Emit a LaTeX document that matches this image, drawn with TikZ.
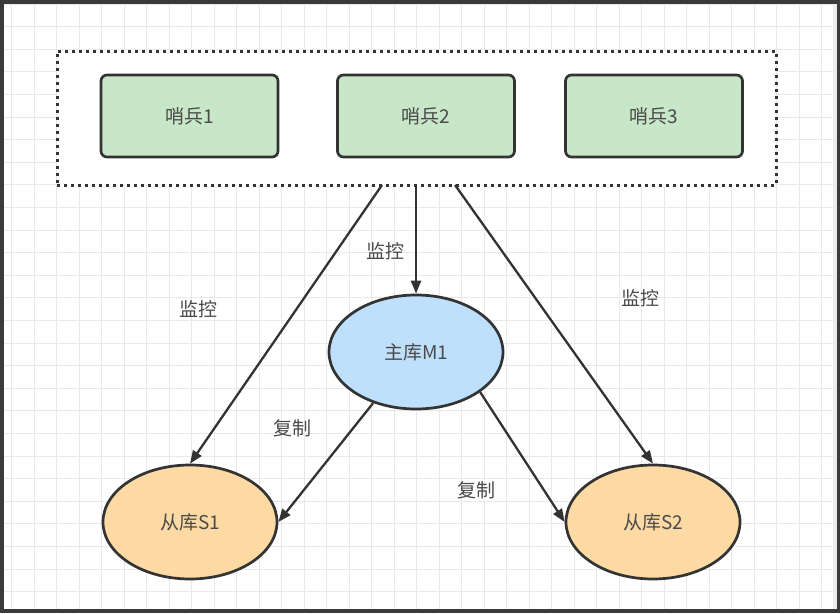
\documentclass[tikz,border=0pt]{standalone}
\usepackage{fontspec}
\newfontfamily\cjk{Noto Sans CJK SC}
\usetikzlibrary{arrows.meta,shapes.geometric}
\definecolor{sentgreen}{HTML}{C8E6C8}
\definecolor{masterblue}{HTML}{BEE0FC}
\definecolor{slaveorange}{HTML}{FDDAA4}
\definecolor{edgegray}{HTML}{333333}
\definecolor{textgray}{HTML}{4A4A4A}
\definecolor{gridgray}{HTML}{E8E8E8}
\definecolor{framegray}{HTML}{3A3A3A}

\begin{document}
\begin{tikzpicture}[x=1pt,y=-1pt]
                        \tikzstyle{sentinel}=[draw=edgegray, line width=2.7pt, fill=sentgreen, rounded corners=6pt, minimum width=177pt, minimum height=82pt, inner sep=0pt]
                        \tikzstyle{db}=[ellipse, draw=edgegray, line width=2.7pt, minimum width=174pt, minimum height=114pt, inner sep=0pt]
                        \tikzstyle{lbl}=[text=textgray]
                        \tikzstyle{link}=[draw=edgegray, line width=2.3pt, -{Triangle[length=13pt,width=10pt]}]
                        \useasboundingbox (0,0) rectangle (840,613);
                        % screen frame and grid
                        \fill[framegray] (0,0) rectangle (840,613);
                        \fill[white] (4,4) rectangle (833,609);
                        \fill[gray!15] (833,4) rectangle (837,609);
                        \foreach \gx in {0,...,36} {
                            \draw[gridgray, line width=0.9pt] (11.7+22.5*\gx,4) -- (11.7+22.5*\gx,609);
                        }
                        \foreach \gy in {0,...,26} {
                            \draw[gridgray, line width=0.9pt] (4,4+22.6*\gy) -- (833,4+22.6*\gy);
                        }
                        \begin{scope}[font=\cjk\fontsize{19}{22}\selectfont]
                        % sentinel group
                        \node[draw=edgegray, fill=white, line width=3pt, dash pattern=on 3pt off 4pt, minimum width=719pt, minimum height=134pt] (grp) at (416.5,118) {};
                        \node[sentinel, lbl] (st1) at (189.5,116) {哨兵1};
                        \node[sentinel, lbl] (st2) at (426,116) {哨兵2};
                        \node[sentinel, lbl] (st3) at (654,116) {哨兵3};
                        % databases
                        \node[db, fill=masterblue, lbl] (m1) at (416,352) {主库M1};
                        \node[db, fill=slaveorange, lbl] (s1) at (190,522) {从库S1};
                        \node[db, fill=slaveorange, lbl] (s2) at (653,522) {从库S2};
                        % taps on the group border
                        \coordinate (tapl) at (382,185);
                        \coordinate (tapm) at (416,185);
                        \coordinate (tapr) at (455,185);
                        \draw[link] (tapl) -- (s1.north);
                        \draw[link] (tapm) -- (m1.north);
                        \draw[link] (tapr) -- (s2.north);
                        \draw[link] (m1.230) -- (s1.east);
                        \draw[link] (m1.328) -- (s2.west);
                        % labels
                        \node[lbl] (mon1) at (198,309) {监控};
                        \node[lbl] (mon2) at (385,251) {监控};
                        \node[lbl] (mon3) at (640,298) {监控};
                        \node[lbl] (rep1) at (292,428) {复制};
                        \node[lbl] (rep2) at (476,490) {复制};
                        \end{scope}
                    \end{tikzpicture}
\end{document}
